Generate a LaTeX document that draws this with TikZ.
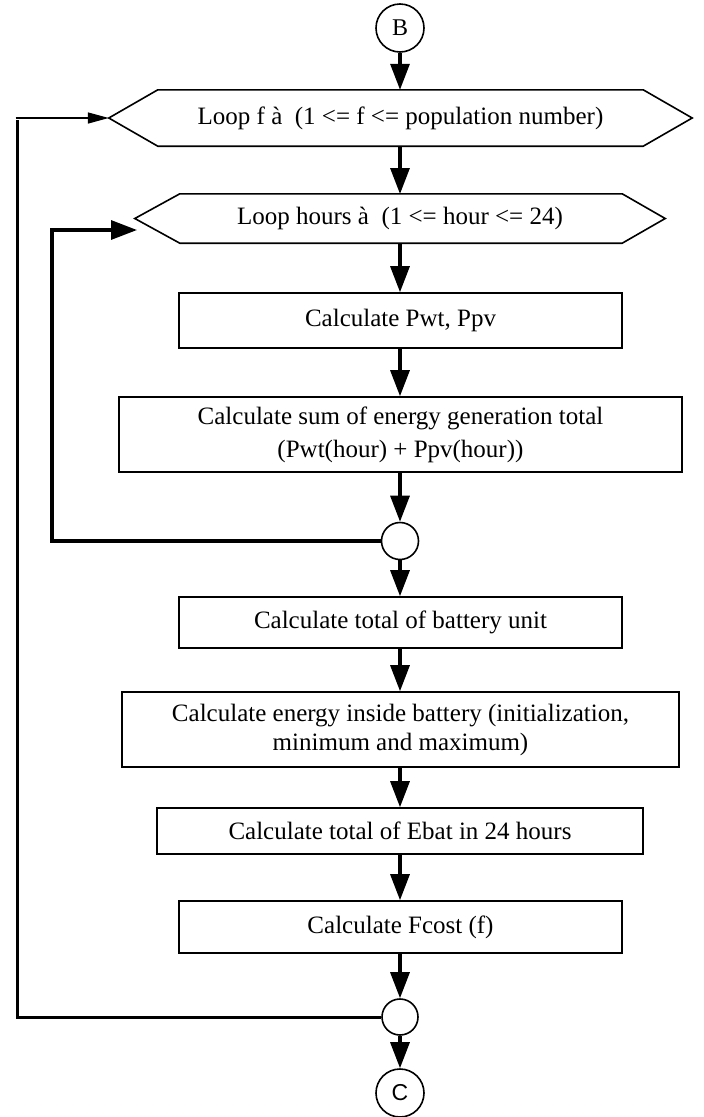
\documentclass[tikz,border=0pt]{standalone}
\usepackage{fontspec}
\setmainfont{Liberation Serif}
\newfontfamily\sansC{Liberation Sans}
\usetikzlibrary{arrows.meta,calc}
\begin{document}
\begin{tikzpicture}[x=1pt,y=1pt,
  txt/.style={font=\fontsize{25}{31}\selectfont},
  box/.style={draw, line width=1.6pt, inner sep=0pt, align=center, txt},
  hexnode/.style={inner sep=0pt, align=center, txt},
  hexline/.style={line width=1.6pt, line join=miter},
  conn/.style={draw, line width=1.6pt, circle, inner sep=0pt},
  flow/.style={line width=3.2pt, -{Triangle[length=26pt,width=19pt]}},
  loopline/.style={line width=3pt},
  thinflow/.style={line width=1.5pt, -{Triangle[length=21pt,width=11pt]}}
]
\useasboundingbox (0,0) rectangle (704,-1117);

% terminals
\node[conn, minimum size=48pt, font=\fontsize{24}{28}\selectfont] (B) at (400,-28) {B};
\node[conn, minimum size=48pt, font=\sansC\fontsize{23}{28}\selectfont] (C) at (400,-1093) {C};

% loop hexagons
\node[hexnode, minimum width=583pt, minimum height=56pt] (h1) at (400.5,-118) {Loop f à\ \ (1 <= f <= population number)};
\draw[hexline] (h1.west) -- ($(h1.north west)+(49,0)$) -- ($(h1.north east)+(-49,0)$) -- (h1.east)
  -- ($(h1.south east)+(-49,0)$) -- ($(h1.south west)+(49,0)$) -- cycle;

\node[hexnode, minimum width=530pt, minimum height=49pt] (h2) at (400,-218.5) {Loop hours à\ \ (1 <= hour <= 24)};
\draw[hexline] (h2.west) -- ($(h2.north west)+(45,0)$) -- ($(h2.north east)+(-43,0)$) -- (h2.east)
  -- ($(h2.south east)+(-43,0)$) -- ($(h2.south west)+(45,0)$) -- cycle;

% process boxes
\node[box, minimum width=443pt, minimum height=55pt] (p1) at (400.5,-320.5) {Calculate Pwt, Ppv};
\node[box, minimum width=563pt, minimum height=75pt, font=\fontsize{25}{33}\selectfont] (p2) at (400.5,-434.5)
  {Calculate sum of energy generation total\\(Pwt(hour) + Ppv(hour))};
\node[conn, minimum size=37pt] (j1) at (400,-541) {};
\node[box, minimum width=443pt, minimum height=51pt] (p3) at (400.5,-622.5) {Calculate total of battery unit};
\node[box, minimum width=557pt, minimum height=75pt, font=\fontsize{25}{29}\selectfont] (p4) at (400.5,-729.5)
  {Calculate energy inside battery (initialization,\\minimum and maximum)};
\node[box, minimum width=486pt, minimum height=46pt] (p5) at (400,-831) {Calculate total of Ebat in 24 hours};
\node[box, minimum width=443pt, minimum height=52pt] (p6) at (400.5,-927) {Calculate Fcost (f)};
\node[conn, minimum size=36pt] (j2) at (400,-1017) {};

% main flow
\draw[flow] (B) -- (B |- h1.north);
\draw[flow] (400,-146) -- (400,-194);
\draw[flow] (h2.south -| 400,0) -- (p1.north -| 400,0);
\draw[flow] (p1.south -| 400,0) -- (p2.north -| 400,0);
\draw[flow] (p2.south -| 400,0) -- (j1);
\draw[flow] (j1) -- (p3.north -| 400,0);
\draw[flow] (p3.south -| 400,0) -- (p4.north -| 400,0);
\draw[flow] (p4.south -| 400,0) -- (p5);
\draw[flow] (p5) -- (p6.north -| 400,0);
\draw[flow] (p6.south -| 400,0) -- (j2);
\draw[flow] (j2) -- (C);

% inner loop (hours)
\coordinate (ic) at (52,-230);
\coordinate (it) at (137,-230);
\draw[flow] (j1.west) -| (ic) -- (it);

% outer loop (population)
\coordinate (oc) at (17,-118);
\draw[loopline] (j2.west) -| ($(oc)+(0,-1.5)$);
\draw[thinflow] ($(oc)+(-1.5,0)$) -- (h1.west);
\end{tikzpicture}
\end{document}
